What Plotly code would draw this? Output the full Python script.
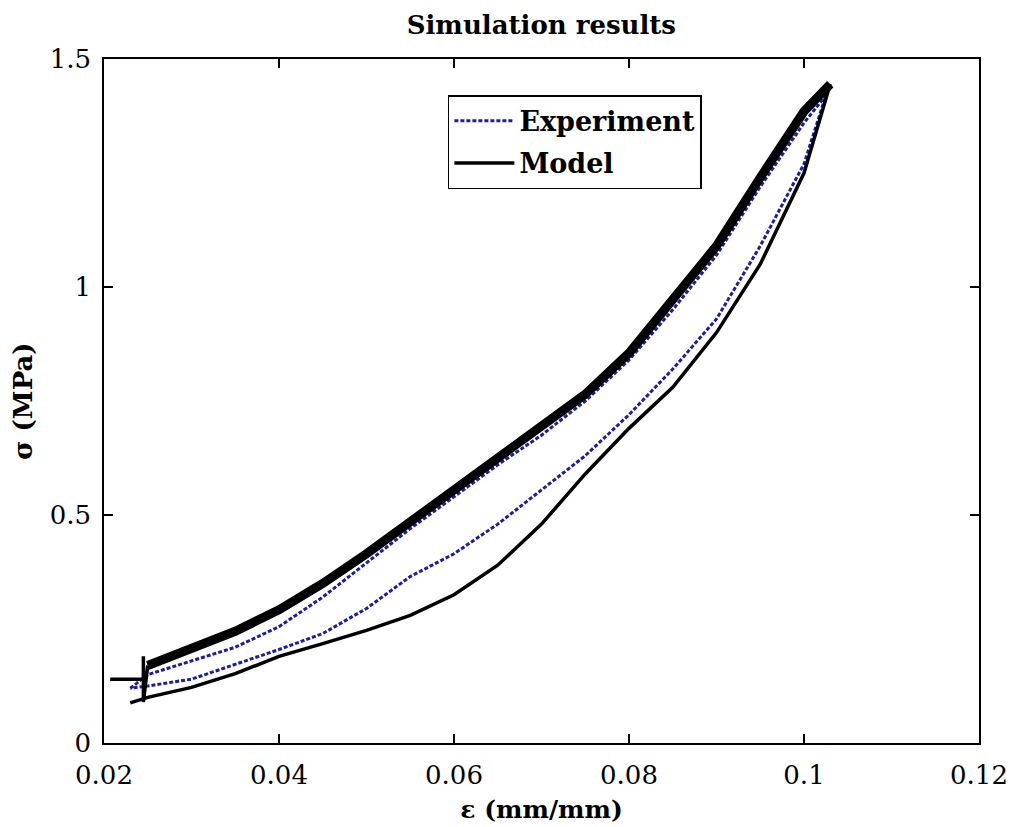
import plotly.graph_objects as go

# strain values for each branch of the loops
model_load_x = [0.025, 0.03, 0.035, 0.04, 0.045, 0.05, 0.055, 0.06, 0.065, 0.07, 0.075,
                0.08, 0.085, 0.09, 0.095, 0.1, 0.103]
model_load_y = [0.17, 0.21, 0.245, 0.292, 0.35, 0.415, 0.485, 0.555, 0.623, 0.69, 0.765,
                0.855, 0.97, 1.09, 1.24, 1.385, 1.445]

model_unload_x = [0.103, 0.1, 0.095, 0.09, 0.085, 0.08, 0.075, 0.07, 0.065, 0.06, 0.055,
                  0.05, 0.045, 0.04, 0.035, 0.03, 0.025, 0.023]
model_unload_y = [1.445, 1.25, 1.05, 0.9, 0.78, 0.69, 0.59, 0.48, 0.39, 0.325, 0.28,
                  0.247, 0.218, 0.19, 0.152, 0.122, 0.1, 0.088]

model_start_x = [0.0207, 0.0245, 0.0245, 0.0245, 0.025]
model_start_y = [0.14, 0.14, 0.19, 0.09, 0.17]

exp_x = [0.023, 0.025, 0.03, 0.035, 0.04, 0.045, 0.05, 0.055, 0.06, 0.065, 0.07, 0.075,
         0.08, 0.085, 0.09, 0.095, 0.1, 0.1025,
         0.1, 0.095, 0.09, 0.085, 0.08, 0.075, 0.07, 0.065, 0.06, 0.055, 0.05, 0.045,
         0.04, 0.035, 0.03, 0.025, 0.023]
exp_y = [0.12, 0.15, 0.18, 0.21, 0.255, 0.32, 0.395, 0.47, 0.54, 0.61, 0.675, 0.75,
         0.84, 0.95, 1.07, 1.22, 1.36, 1.42,
         1.27, 1.09, 0.93, 0.82, 0.72, 0.63, 0.555, 0.48, 0.415, 0.365, 0.295, 0.24,
         0.205, 0.172, 0.14, 0.125, 0.12]

x_ticks = [0.02, 0.04, 0.06, 0.08, 0.1, 0.12]
x_tick_text = ["0.02", "0.04", "0.06", "0.08", "0.1", "0.12"]
y_ticks = [0, 0.5, 1, 1.5]
y_tick_text = ["0", "0.5", "1", "1.5"]

serif = "DejaVu Serif"

fig = go.Figure()
fig.add_trace(go.Scatter(x=exp_x, y=exp_y, mode="lines", name="Experiment",
                         line=dict(color="#1c1ca8", width=3, dash="4px,2px")))
# thin branch carries the legend entry so the sample is a plain solid line
fig.add_trace(go.Scatter(x=model_unload_x, y=model_unload_y, mode="lines", name="Model",
                         legendgroup="model", line=dict(color="black", width=3.5)))
fig.add_trace(go.Scatter(x=model_load_x, y=model_load_y, mode="lines", name="Model",
                         legendgroup="model", showlegend=False,
                         line=dict(color="black", width=9)))
fig.add_trace(go.Scatter(x=model_start_x, y=model_start_y, mode="lines", name="Model",
                         legendgroup="model", showlegend=False,
                         line=dict(color="black", width=3.5)))

axis_style = dict(showline=True, linecolor="black", linewidth=1.5, mirror="ticks",
                  ticks="inside", ticklen=9, tickwidth=1.5, tickcolor="black",
                  showgrid=False, zeroline=False, automargin=False,
                  tickfont=dict(family=serif, size=26, color="black"))

fig.update_xaxes(range=[0.02, 0.12], tickvals=x_ticks, ticktext=x_tick_text,
                 ticklabelstandoff=8,
                 title=dict(text="ε (mm/mm)", standoff=12,
                            font=dict(family=serif, size=25, color="black", weight="bold")),
                 **axis_style)
fig.update_yaxes(range=[0, 1.5], tickvals=y_ticks, ticktext=y_tick_text,
                 ticklabelstandoff=6,
                 title=dict(text="σ (MPa)", standoff=10,
                            font=dict(family=serif, size=26, color="black", weight="bold")),
                 **axis_style)

fig.update_layout(
    width=1010, height=827,
    margin=dict(l=104, r=31, t=59, b=84),
    paper_bgcolor="white", plot_bgcolor="white",
    title=dict(text="<b>Simulation results</b>", x=0.536, xanchor="center",
               y=0.97, yanchor="middle", yref="container",
               font=dict(family=serif, size=26, color="black")),
    legend=dict(x=0.393, y=0.947, xanchor="left", yanchor="top",
                bordercolor="black", borderwidth=1.5, bgcolor="white",
                font=dict(family=serif, size=27, color="black", weight="bold"),
                itemwidth=60, tracegroupgap=4),
)

fig.write_html("out.html", config={"displayModeBar": False},
               post_script="document.body.style.margin='0';")
